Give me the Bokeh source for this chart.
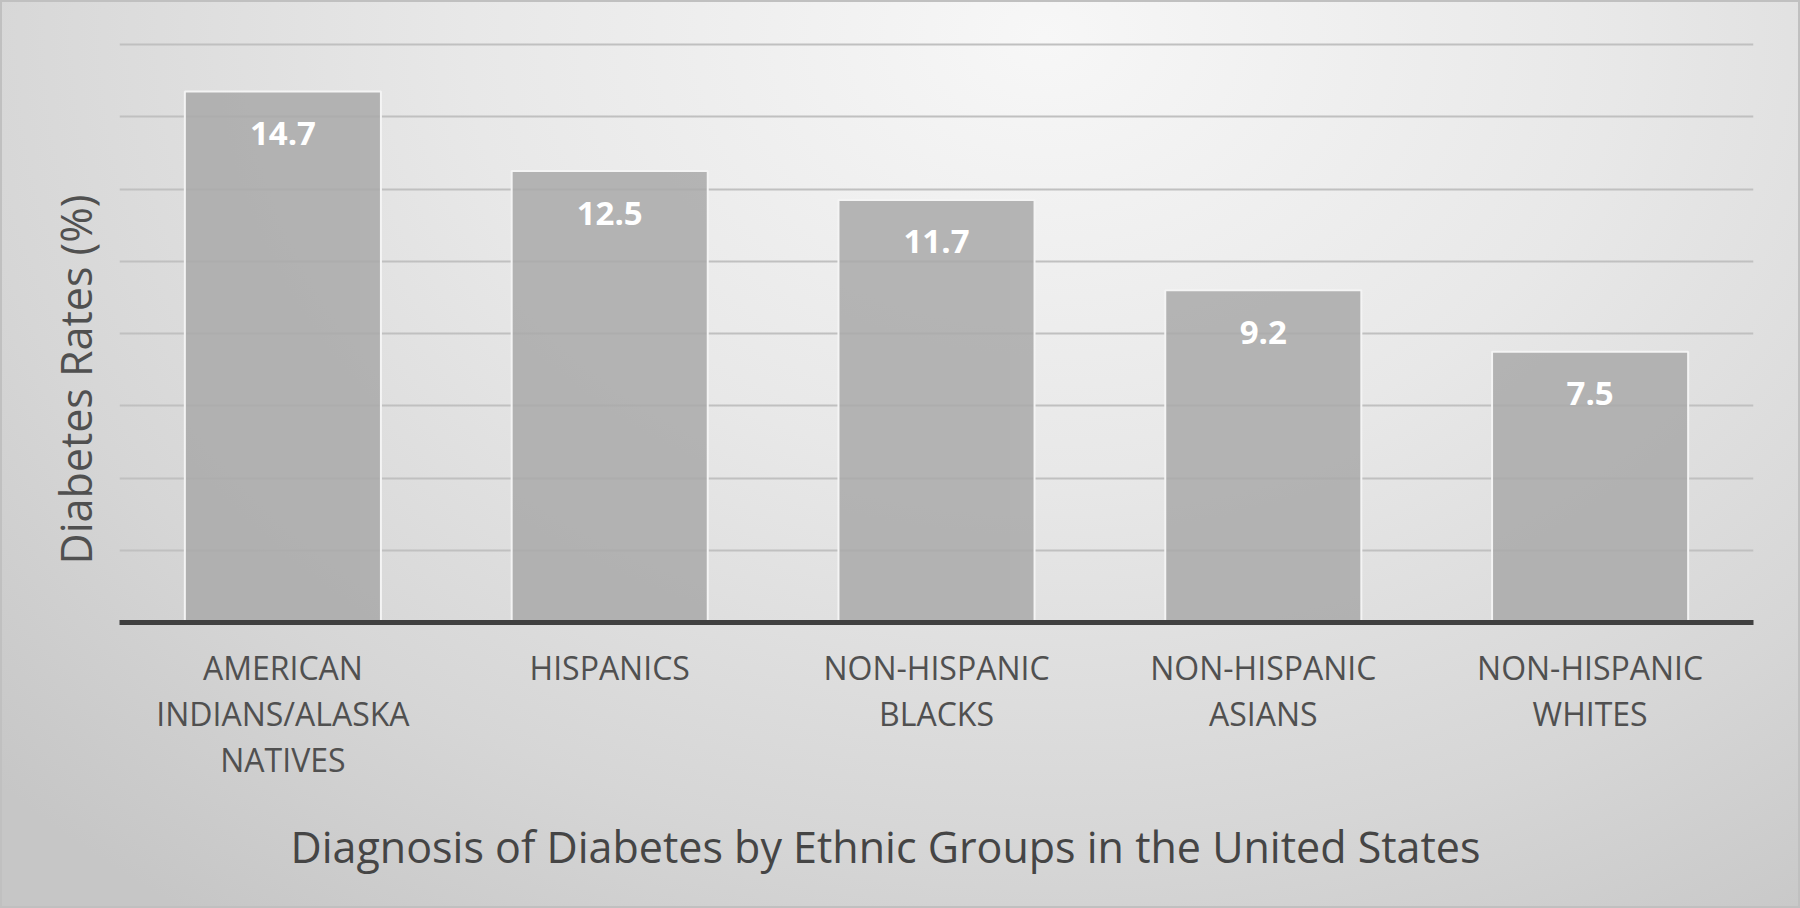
from bokeh.plotting import figure
from bokeh.models import ColumnDataSource, FactorRange, Range1d, Title, SingleIntervalTicker
from bokeh.core.properties import value
from bokeh.embed import file_html
from bokeh.resources import INLINE

# ---- data ----
groups = [
    "AMERICAN\nINDIANS/ALASKA\nNATIVES",
    "HISPANICS",
    "NON-HISPANIC\nBLACKS",
    "NON-HISPANIC\nASIANS",
    "NON-HISPANIC\nWHITES",
]
rates = [14.7, 12.5, 11.7, 9.2, 7.5]
rate_labels = ["14.7", "12.5", "11.7", "9.2", "7.5"]
y_title = "Diabetes Rates (%)"
chart_title = "Diagnosis of Diabetes by Ethnic Groups in the United States"

src = ColumnDataSource(dict(group=groups, rate=rates, label=rate_labels))

W, H = 1800, 908
p = figure(
    x_range=FactorRange(*groups),
    y_range=Range1d(0, 16.06),
    width=W, height=H,
    output_backend="svg",
    toolbar_location=None,
    min_border_left=119, min_border_right=47,
    min_border_top=42, min_border_bottom=286,
)

p.background_fill_alpha = 0
p.border_fill_alpha = 0
p.outline_line_color = None
p.styles = {
    "background": "radial-gradient(ellipse 80% 120% at 58% 4%, #f7f7f7 0%, #e8e8e8 40%, #d6d6d6 75%, #c6c6c6 100%)",
    "outline": "2px solid #c0c0c0",
    "outline-offset": "-2px",
}

p.vbar(x="group", top="rate", width=0.6, source=src,
       fill_color="#a9a9a9", fill_alpha=0.85,
       line_color="#f4f4f4", line_width=2)

p.text(x="group", y="rate", text="label", source=src,
       text_font=value("Open Sans"), text_font_style="bold",
       text_font_size="33px", text_color="white",
       text_align="center", text_baseline="alphabetic", y_offset=42)

# grid
p.xgrid.grid_line_color = None
p.ygrid.grid_line_color = "#c0c0c0"
p.ygrid.grid_line_width = 2
p.yaxis.ticker = SingleIntervalTicker(interval=2)

# y axis: hidden, its ticker drives the grid
p.yaxis.visible = False

ytitle = Title(text=y_title, align="left", offset=58,
               text_font="Open Sans", text_font_size="43px",
               text_font_style="normal", text_color="#505050", standoff=30)
p.add_layout(ytitle, "left")

# x axis
p.xaxis.axis_line_color = "#404040"
p.xaxis.axis_line_width = 5
p.xaxis.major_tick_line_color = None
p.xaxis.minor_tick_line_color = None
p.xaxis.major_label_text_font = "Open Sans"
p.xaxis.major_label_text_font_size = "32px"
p.xaxis.major_label_text_color = "#505050"
p.xaxis.major_label_text_line_height = 1.07
p.xaxis.major_label_standoff = 17

t = Title(text=chart_title, align="left", offset=171,
          text_font="Open Sans", text_font_size="43px",
          text_font_style="normal", text_color="#454545", standoff=63)
p.add_layout(t, "below")

open("out.html", "w").write(file_html(p, INLINE))
